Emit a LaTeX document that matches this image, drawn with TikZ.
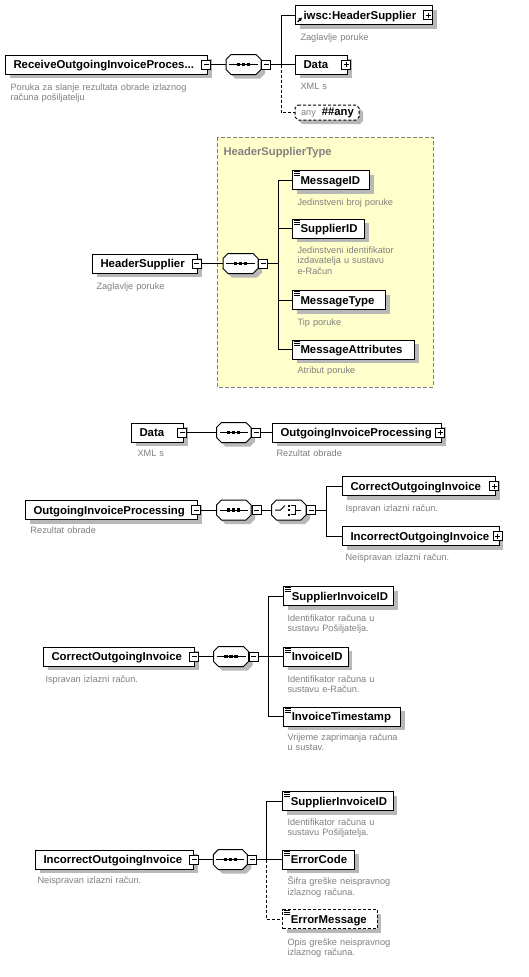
\documentclass[tikz,border=0pt]{standalone}
\usepackage{fontspec}
\setmainfont{Liberation Sans}
\usetikzlibrary{shadows,arrows.meta}
\definecolor{shadowc}{RGB}{184,184,184}
\definecolor{descc}{RGB}{128,128,128}
\definecolor{typefill}{RGB}{255,255,204}
\definecolor{typeline}{RGB}{128,128,128}
\newcommand\elt[2]{\makebox[#1pt][l]{\rule[-2.8pt]{0pt}{13.8pt}#2}}
\newcommand\octp[5]{(#1+#5,#3-#4) -- (#2-#5,#3-#4) -- (#2,#3-#4+#5) -- (#2,#3+#4-#5) -- (#2-#5,#3+#4) -- (#1+#5,#3+#4) -- (#1,#3+#4-#5) -- (#1,#3-#4+#5) -- cycle}
\newcommand\seqsym[3]{%
  \fill[shadowc, shift={(4,4)}] \octp{#1}{#2}{#3}{10}{5};
  \filldraw[fill=white] \octp{#1}{#2}{#3}{10}{5};
  \draw (#1+3,#3) -- (#2-3,#3);
  \foreach \d in {-5,0,5} \fill ({(#1+#2)/2+\d-1.6},#3-1.6) rectangle ++(3.2,3.2);
}
\newcommand\choicesym[3]{%
  \fill[shadowc, shift={(4,4)}] \octp{#1}{#2}{#3}{10}{5};
  \filldraw[fill=white] \octp{#1}{#2}{#3}{10}{5};
  \draw (#1+3.5,#3) -- (#1+9,#3) -- (#1+13.5,#3-4.5);
  \foreach \d in {-4.5,0,4.5} \fill (#1+16.5,#3+\d-1) rectangle ++(2,2);
  \draw (#1+19,#3-4.5) -- (#1+23.5,#3-4.5) -- (#1+23.5,#3+4.5) -- (#1+19,#3+4.5);
  \draw (#1+23.5,#3) -- (#1+29.5,#3);
}
\newcommand\elicon[1]{%
  \foreach \k in {1.8,3.8,5.8} \draw[line width=0.9pt] ([xshift=2pt,yshift=-\k pt]#1.north west) -- ++(6,0);
}
\begin{document}
\begin{tikzpicture}[x=1pt,y=-1pt,line width=1pt,
  elem/.style={draw, fill=white, anchor=west, minimum height=19pt, inner xsep=8pt, inner ysep=0pt,
    font=\fontsize{11.4}{13}\selectfont\bfseries,
    general shadow={fill=shadowc, shadow xshift=4pt, shadow yshift=-4pt}},
  optline/.style={dash pattern=on 3pt off 2pt},
  pmbox/.style={draw, fill=white, minimum size=9pt, inner sep=0pt},
  mminus/.style={pmbox, path picture={\draw[line width=1pt] ([xshift=2pt]path picture bounding box.west) -- ([xshift=-2pt]path picture bounding box.east);}},
  pplus/.style={pmbox, path picture={\draw[line width=1pt] ([xshift=2pt]path picture bounding box.west) -- ([xshift=-2pt]path picture bounding box.east) ([yshift=-2pt]path picture bounding box.north) -- ([yshift=2pt]path picture bounding box.south);}},
  seqn/.style={inner sep=0pt, minimum height=20pt},
  desc/.style={anchor=base west, inner sep=0pt, text width=230pt, align=left, text=descc, font=\fontsize{9.2}{10.7}\selectfont},
  typebox/.style={fill=typefill, draw=typeline, dash pattern=on 4pt off 2pt},
  typelabel/.style={anchor=base west, inner sep=0pt, text=descc, font=\fontsize{11.2}{13}\selectfont\bfseries}
]
\path[use as bounding box, fill=white] (0,0) rectangle (529,977);

% ===== Root =====
\node[elem, minimum width=202pt] (root) at (5,64.5) {\elt{186}{ReceiveOutgoingInvoiceProces...}};
\node[mminus] (rootm) at (206,64.5) {};
\seqsym{226}{261}{64.5}
\node[seqn, minimum width=35pt] (seq1) at (243.5,64.5) {};
\node[mminus] (seq1m) at (266,64.5) {};
\node[elem, minimum width=137pt] (iwsc) at (295,15) {\elt{121}{iwsc:HeaderSupplier}};
\node[pplus] (iwscp) at (428,15) {};
\draw[-{Triangle[length=3.5pt,width=3.5pt]}, line width=1.2pt] ([xshift=2.5pt,yshift=3pt]iwsc.south west) -- ++(4.5,-4.5);
\node[elem, minimum width=52pt] (data) at (295,64.5) {\elt{36}{Data}};
\node[pplus] (datap) at (346,64.5) {};
\fill[shadowc, shift={(4,4)}] \octp{295}{359}{112.5}{7.5}{3};
\filldraw[fill=white, optline] \octp{295}{359}{112.5}{7.5}{3};
\node[inner sep=0pt, minimum width=64pt, minimum height=15pt, anchor=west] (any) at (295,112.5)
  {{\color{descc}\fontsize{9.2}{11}\selectfont any}\hspace{6pt}{\fontsize{11.3}{13}\selectfont\bfseries \#\#any}};
\coordinate (sp1) at (281,64.5);
\draw (rootm.east) -- (seq1.west);
\draw (seq1m.east) -- (data.west);
\draw (sp1) |- (iwsc.west);
\draw[optline] (sp1) |- (any.west);
\node[desc] (rootd) at (10,90) {Poruka za slanje rezultata obrade izlaznog\\računa pošiljatelju};
\node[desc] (iwscd) at (300,40) {Zaglavlje poruke};
\node[desc] (datad) at (300,89) {XML s};

% ===== HeaderSupplierType =====
\draw[typebox] (217,137) rectangle (433,387);
\node[typelabel] (hstl) at (223,155) {HeaderSupplierType};
\node[elem, minimum width=105pt] (hs) at (92,263.5) {\elt{89}{HeaderSupplier}};
\node[mminus] (hsm) at (196.5,263.5) {};
\seqsym{223}{258}{263.5}
\node[seqn, minimum width=35pt] (seq2) at (240.5,263.5) {};
\node[mminus] (seq2m) at (263,263.5) {};
\coordinate (sp2) at (278,263.5);
\node[elem, minimum width=77pt] (msgid) at (292,180) {\elt{61}{MessageID}};
\node[elem, minimum width=72pt] (suppid) at (292,228.5) {\elt{56}{SupplierID}};
\node[elem, minimum width=93pt] (msgtype) at (292,300) {\elt{77}{MessageType}};
\node[elem, minimum width=122pt] (msgattr) at (292,349.5) {\elt{106}{MessageAttributes}};
\elicon{msgid}\elicon{suppid}\elicon{msgtype}\elicon{msgattr}
\draw (hsm.east) -- (seq2.west);
\draw (seq2m.east) -- (sp2);
\draw (sp2) |- (msgid.west);
\draw (sp2) |- (suppid.west);
\draw (sp2) |- (msgtype.west);
\draw (sp2) |- (msgattr.west);
\node[desc] (hsd) at (96,289) {Zaglavlje poruke};
\node[desc] (msgidd) at (297,205) {Jedinstveni broj poruke};
\node[desc] (suppidd) at (297,253) {Jedinstveni identifikator\\izdavatelja u sustavu\\e-Račun};
\node[desc] (msgtyped) at (297,325) {Tip poruke};
\node[desc] (msgattrd) at (297,373) {Atribut poruke};

% ===== Data =====
\node[elem, minimum width=52pt] (data2) at (131,432.5) {\elt{36}{Data}};
\node[mminus] (data2m) at (182,432.5) {};
\seqsym{216.5}{251}{432.5}
\node[seqn, minimum width=34.5pt] (seq3) at (233.75,432.5) {};
\node[mminus] (seq3m) at (256,432.5) {};
\node[elem, minimum width=169pt] (oip) at (272,432.5) {\elt{153}{OutgoingInvoiceProcessing}};
\node[pplus] (oipp) at (440,432.5) {};
\draw (data2m.east) -- (seq3.west);
\draw (seq3m.east) -- (oip.west);
\node[desc] (data2d) at (137,456.5) {XML s};
\node[desc] (oipd) at (276,456.5) {Rezultat obrade};

% ===== OutgoingInvoiceProcessing =====
\node[elem, minimum width=172pt] (oip2) at (25,510) {\elt{156}{OutgoingInvoiceProcessing}};
\node[mminus] (oip2m) at (196,510) {};
\seqsym{216.5}{251}{510}
\node[seqn, minimum width=34.5pt] (seq4) at (233.75,510) {};
\node[mminus] (seq4m) at (256.5,510) {};
\choicesym{271.5}{306}{510}
\node[seqn, minimum width=34.5pt] (ch1) at (288.75,510) {};
\node[mminus] (ch1m) at (311,510) {};
\coordinate (sp4) at (326,510);
\node[elem, minimum width=153pt] (corr) at (342,486) {\elt{137}{CorrectOutgoingInvoice}};
\node[pplus] (corrp) at (494,486) {};
\node[elem, minimum width=156.5pt] (incorr) at (342,536) {\elt{140.5}{IncorrectOutgoingInvoice}};
\node[pplus] (incorrp) at (497.5,536) {};
\draw (oip2m.east) -- (seq4.west);
\draw (seq4m.east) -- (ch1.west);
\draw (ch1m.east) -- (sp4);
\draw (sp4) |- (corr.west);
\draw (sp4) |- (incorr.west);
\node[desc] (oip2d) at (30,533) {Rezultat obrade};
\node[desc] (corrd) at (345,511.5) {Ispravan izlazni račun.};
\node[desc] (incorrd) at (345,560) {Neispravan izlazni račun.};

% ===== CorrectOutgoingInvoice =====
\node[elem, minimum width=151pt] (corr2) at (43,656.5) {\elt{135}{CorrectOutgoingInvoice}};
\node[mminus] (corr2m) at (194,656.5) {};
\seqsym{213.5}{248.5}{656.5}
\node[seqn, minimum width=35pt] (seq5) at (231,656.5) {};
\node[mminus] (seq5m) at (253.5,656.5) {};
\coordinate (sp5) at (268.3,656.5);
\node[elem, minimum width=110pt] (sii) at (283.3,596) {\elt{94}{SupplierInvoiceID}};
\node[elem, minimum width=64.4pt] (invid) at (283.3,656.5) {\elt{48.4}{InvoiceID}};
\node[elem, minimum width=116.7pt] (invts) at (283.3,716.5) {\elt{100.7}{InvoiceTimestamp}};
\elicon{sii}\elicon{invid}\elicon{invts}
\draw (corr2m.east) -- (seq5.west);
\draw (seq5m.east) -- (invid.west);
\draw (sp5) |- (sii.west);
\draw (sp5) |- (invts.west);
\node[desc] (corr2d) at (45,682) {Ispravan izlazni račun.};
\node[desc] (siid) at (287,621) {Identifikator računa u\\sustavu Pošiljatelja.};
\node[desc] (invidd) at (287,682) {Identifikator računa u\\sustavu e-Račun.};
\node[desc] (invtsd) at (287,740) {Vrijeme zaprimanja računa\\u sustav.};

% ===== IncorrectOutgoingInvoice =====
\node[elem, minimum width=158.3pt] (incorr2) at (35,859.5) {\elt{142.3}{IncorrectOutgoingInvoice}};
\node[mminus] (incorr2m) at (194,859.5) {};
\seqsym{213.3}{247.3}{859.5}
\node[seqn, minimum width=34pt] (seq6) at (230.3,859.5) {};
\node[mminus] (seq6m) at (252.3,859.5) {};
\coordinate (sp6) at (266.7,859.5);
\node[elem, minimum width=110.4pt] (sii2) at (282.3,801) {\elt{94.4}{SupplierInvoiceID}};
\node[elem, minimum width=72pt] (errcode) at (282.3,859.5) {\elt{56}{ErrorCode}};
\node[elem, optline, minimum width=94.4pt] (errmsg) at (282.3,919) {\elt{78.4}{ErrorMessage}};
\elicon{sii2}\elicon{errcode}\elicon{errmsg}
\draw (incorr2m.east) -- (seq6.west);
\draw (seq6m.east) -- (errcode.west);
\draw (sp6) |- (sii2.west);
\draw[optline] (sp6) |- (errmsg.west);
\node[desc] (incorr2d) at (37,883) {Neispravan izlazni račun.};
\node[desc] (sii2d) at (287,825) {Identifikator računa u\\sustavu Pošiljatelja.};
\node[desc] (errcoded) at (287,884.5) {Šifra greške neispravnog\\izlaznog računa.};
\node[desc] (errmsgd) at (287,945) {Opis greške neispravnog\\izlaznog računa.};
\end{tikzpicture}
\end{document}
